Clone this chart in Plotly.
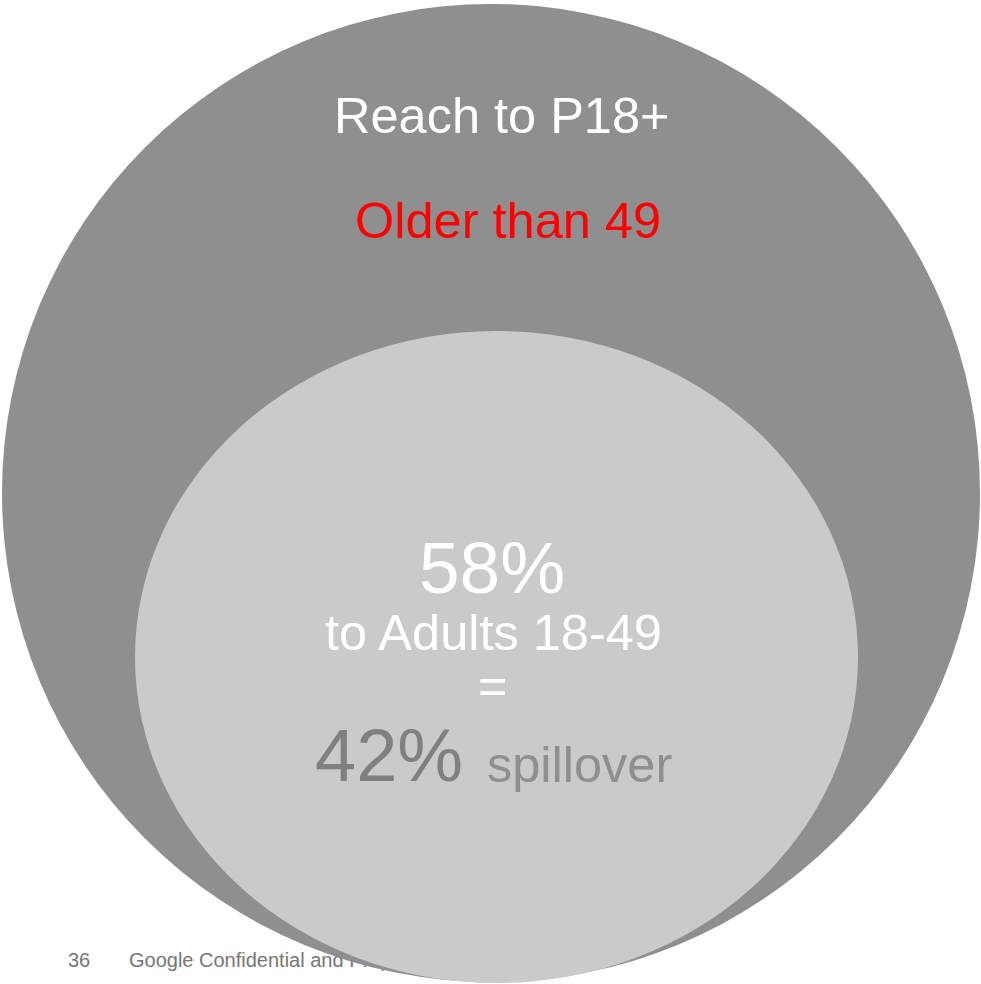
import plotly.graph_objects as go

# ---- data ----
audience_title = "Reach to P18+"
older_label = "Older than 49"
target_label = "to Adults 18-49"
spill_label = "spillover"
shares = [58, 42]            # % to Adults 18-49, % spillover
footer_page = "36"
footer_text = "Google Confidential and Proprietary"

W, H = 981, 984
FONT = "Liberation Sans, Arial, sans-serif"

OUTER = "#8f8f8f"
INNER = "#cacaca"

fig = go.Figure()

# footer text drawn as a trace so the circles (shapes above) can cover it
fig.add_trace(go.Scatter(
    x=[68, 129], y=[961.5, 961.5], mode="text",
    text=[footer_page, footer_text], textposition="middle right",
    textfont=dict(family=FONT, size=20, color="#767676"),
    hoverinfo="skip", showlegend=False,
))

fig.add_shape(type="circle", xref="x", yref="y", layer="above",
              x0=2, x1=980, y0=4, y1=982,
              fillcolor=OUTER, line=dict(width=0))
fig.add_shape(type="circle", xref="x", yref="y", layer="above",
              x0=135, x1=858, y0=331, y1=983,
              fillcolor=INNER, line=dict(width=0))

def ann(text, x, y, size, color, xanchor="center"):
    fig.add_annotation(text=text, x=x, y=y, xref="x", yref="y",
                       showarrow=False, xanchor=xanchor, yanchor="middle",
                       font=dict(family=FONT, size=size, color=color))

ann(audience_title, 502, 115.5, 50.5, "#ffffff")
ann(older_label, 508, 220, 50.5, "#ff0000")
ann(f"{shares[0]}%", 491.5, 567.5, 73, "#ffffff")
ann(target_label, 493, 632.5, 50.5, "#ffffff")
ann("=", 493, 685, 50.5, "#ffffff")
ann(f"{shares[1]}%", 313, 755, 74, "#808080", xanchor="left")
ann(spill_label, 485, 764, 50.5, "#8f8f8f", xanchor="left")

fig.update_xaxes(range=[0, W], visible=False, fixedrange=True)
fig.update_yaxes(range=[H, 0], visible=False, fixedrange=True)
fig.update_layout(
    width=W, height=H, autosize=False,
    margin=dict(l=0, r=0, t=0, b=0, pad=0),
    paper_bgcolor="#ffffff", plot_bgcolor="#ffffff",
    showlegend=False,
)

fig.write_html("out.html", config={"displayModeBar": False})
